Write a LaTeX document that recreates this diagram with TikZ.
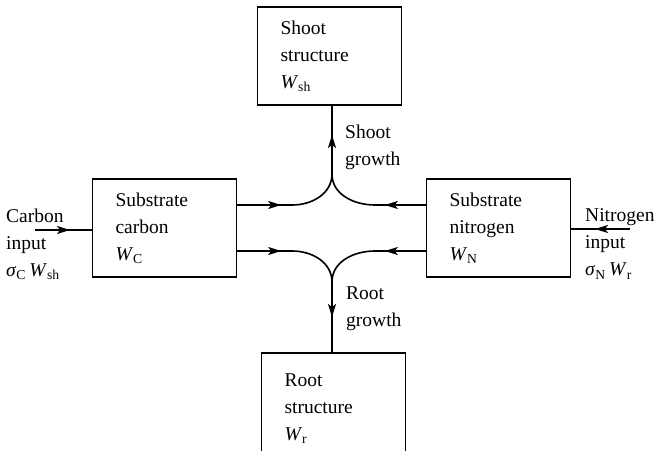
\documentclass[tikz,border=0pt]{standalone}
\usepackage{fontspec}
\setmainfont{Liberation Serif}
\usetikzlibrary{arrows.meta,decorations.markings}

\tikzset{
  block/.style={draw, line width=1.4pt, minimum height=98pt, text width=98pt,
                inner xsep=23pt, inner ysep=4pt, align=left},
  flow/.style={line width=1.6pt},
  tipat/.style={postaction={decorate}, decoration={markings,
      mark=at position #1 with {\arrow{Stealth[length=13pt,width=8pt,inset=3pt]}}}},
  lbl/.style={inner sep=0pt, align=left}
}

\begin{document}
\begin{tikzpicture}[x=1pt,y=1pt,font=\fontsize{19.5}{27}\selectfont]
\useasboundingbox (0,0) rectangle (658,450);
\clip (0,0) rectangle (658,450);

% substrate pools and structural pools
\node[block] (shoot) at (329.5,394) {Shoot\\structure\\\textit{W}\textsubscript{sh}};
\node[block] (carb)  at (164.5,222) {Substrate\\carbon\\\textit{W}\textsubscript{C}};
\node[block] (nitr)  at (498.5,222) {Substrate\\nitrogen\\\textit{W}\textsubscript{N}};
\node[block, minimum height=112pt] (root) at (333.5,41)
  {Root\\structure\\\textit{W}\textsubscript{r}};

% junctions where the substrates meet
\coordinate (up) at (332,276);
\coordinate (dn) at (332,168);
\coordinate (cin) at (35,220);
\coordinate (nin) at (630,221);

% inputs
\draw[flow, tipat=35pt] (cin) -- (cin -| carb.west);
\draw[flow, tipat=35pt] (nin) -- (nin -| nitr.east);

% substrate flows into growth
\draw[flow, tipat=44pt] ([yshift=23pt]carb.east) -- ++(55,0) to[out=0,in=-90] (up);
\draw[flow, tipat=41pt] ([yshift=23pt]nitr.west) -- ++(-51,0) to[out=180,in=-90] (up);
\draw[flow, tipat=44pt] ([yshift=-23pt]carb.east) -- ++(55,0) to[out=0,in=90] (dn);
\draw[flow, tipat=41pt] ([yshift=-23pt]nitr.west) -- ++(-51,0) to[out=180,in=90] (dn);
\draw[flow, tipat=39pt] (up) -- (up |- shoot.south);
\draw[flow, tipat=35pt] (dn) -- (dn |- root.north);

% labels
\node[lbl, anchor=west] (cinl) at (6,206)
  {Carbon\\input\\\textit{σ}\textsubscript{C}\,\textit{W}\textsubscript{sh}};
\node[lbl, anchor=west] (ninl) at (585,206)
  {Nitrogen\\input\\\textit{σ}\textsubscript{N}\,\textit{W}\textsubscript{r}};
\node[lbl, anchor=west] (sgrow) at (345,303) {Shoot\\growth};
\node[lbl, anchor=west] (rgrow) at (346,141) {Root\\growth};
\end{tikzpicture}
\end{document}
